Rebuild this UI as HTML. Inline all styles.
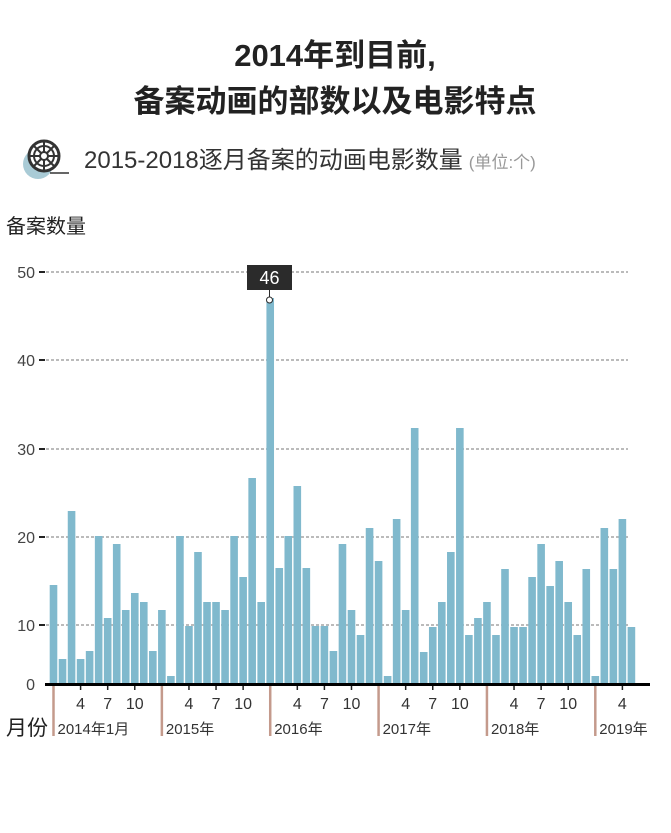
<!DOCTYPE html>
<html><head><meta charset="utf-8"><style>
body{margin:0;background:#fff;width:671px;height:828px;overflow:hidden;font-family:"Liberation Sans","Noto Sans CJK SC",sans-serif;}
</style></head><body>
<svg id="c" width="671" height="828" xmlns="http://www.w3.org/2000/svg" font-family="Liberation Sans, Noto Sans CJK SC, sans-serif">
<text x="335" y="66" text-anchor="middle" font-size="31" font-weight="bold" fill="#222">2014年到目前,</text>
<text x="335" y="112" text-anchor="middle" font-size="31" font-weight="bold" fill="#222">备案动画的部数以及电影特点</text>
<circle cx="38" cy="164" r="15" fill="#a9cbd6"/>
<circle cx="44" cy="156" r="15" fill="#fff" stroke="#333" stroke-width="3"/>
<circle cx="44" cy="156" r="10" fill="none" stroke="#333" stroke-width="2"/>
<circle cx="44" cy="156" r="4" fill="#fff" stroke="#333" stroke-width="2"/>
<g stroke="#333" stroke-width="2"><line x1="44" y1="141" x2="44" y2="152"/><line x1="44" y1="160" x2="44" y2="171"/><line x1="29" y1="156" x2="40" y2="156"/><line x1="48" y1="156" x2="59" y2="156"/><line x1="33" y1="145" x2="41" y2="153"/><line x1="47" y1="159" x2="55" y2="167"/><line x1="55" y1="145" x2="47" y2="153"/><line x1="41" y1="159" x2="33" y2="167"/></g>
<line x1="50" y1="173" x2="69" y2="173" stroke="#333" stroke-width="1.5"/>
<text x="84" y="168" font-size="24" fill="#333">2015-2018逐月备案的动画电影数量<tspan font-size="17" fill="#999" dx="6">(单位:个)</tspan></text>
<text x="6" y="233" font-size="20" fill="#222">备案数量</text>
<text x="6" y="735" font-size="21" fill="#222">月份</text>
<g id="g"></g>
</svg>
<script>
var tops=[585,659,511,659,651,536,618,544,610,593,602,651,
610,676,536,626,552,602,602,610,536,577,478,602,
298,568,536,486,568,626,626,651,544,610,635,528,
561,676,519,610,428,652,627,602,552,428,635,618,
602,635,569,627,627,577,544,586,561,602,635,569,
676,528,569,519,627];
var s='';
[[50,272],[40,360],[30,449],[20,537],[10,625]].forEach(function(a){
s+='<line x1="46" y1="'+a[1]+'" x2="628" y2="'+a[1]+'" stroke="#777" stroke-width="1" stroke-dasharray="3,2"/>';
s+='<line x1="39" y1="'+a[1]+'" x2="45" y2="'+a[1]+'" stroke="#222" stroke-width="2"/>';
s+='<text x="35" y="'+(a[1]+6)+'" text-anchor="end" font-size="16" fill="#444">'+a[0]+'</text>';});
s+='<text x="35" y="690" text-anchor="end" font-size="16" fill="#444">0</text>';
for(var i=0;i<tops.length;i++){var cx=53.5+i*9.03;
s+='<rect x="'+(cx-3.8).toFixed(2)+'" y="'+tops[i]+'" width="7.6" height="'+(684-tops[i])+'" fill="#80b9cd"/>';
var m=i%12;
if(m==3||m==6||m==9){s+='<line x1="'+cx+'" y1="685" x2="'+cx+'" y2="690" stroke="#222" stroke-width="1.5"/><text x="'+cx+'" y="709" text-anchor="middle" font-size="16" fill="#333">'+(m+1)+'</text>';}
if(m==0){s+='<line x1="'+cx+'" y1="685" x2="'+cx+'" y2="736" stroke="#c49a8c" stroke-width="2.5"/>';
var y=2014+i/12;s+='<text x="'+(cx+4)+'" y="734" font-size="15" fill="#333">'+y+'年'+(y==2014?'1月':'')+'</text>';}}
s+='<line x1="45" y1="684.5" x2="650" y2="684.5" stroke="#000" stroke-width="3"/>';
s+='<rect x="247" y="265" width="45" height="25" fill="#2b2b2b"/><text x="269.5" y="284" text-anchor="middle" font-size="18" fill="#fff">46</text>';
s+='<line x1="269.5" y1="290" x2="269.5" y2="297" stroke="#2b2b2b"/><circle cx="269.5" cy="300" r="3" fill="#fff" stroke="#2b2b2b"/>';
document.getElementById('g').innerHTML=s;
</script>
</body></html>
